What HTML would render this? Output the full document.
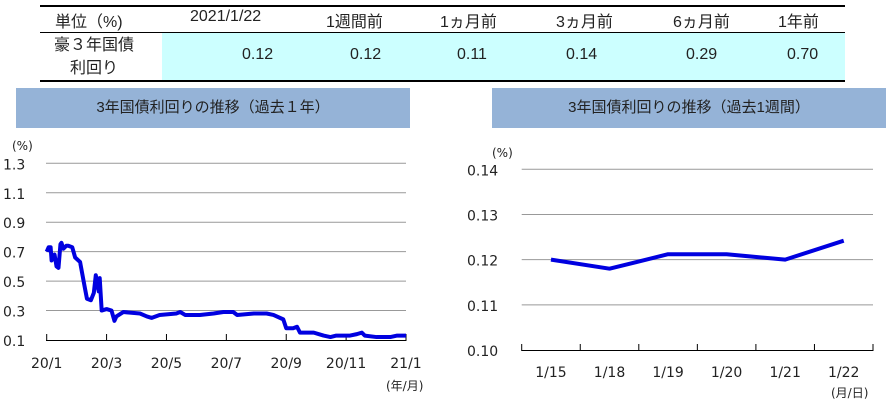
<!DOCTYPE html>
<html><head><meta charset="utf-8">
<style>
body{margin:0;width:888px;height:403px;background:#fff;font-family:"Liberation Sans","Noto Sans CJK JP",sans-serif;overflow:hidden;position:relative}
.t{position:absolute;font-size:16px;color:#222;white-space:nowrap}
svg text{font-family:"DejaVu Sans","Noto Sans CJK JP",sans-serif;fill:#222}
</style></head><body>
<div style="position:absolute;left:40px;top:5px;width:805px;height:76px">
 <div style="position:absolute;left:0;top:0;width:805px;height:2px;background:#000"></div>
 <div style="position:absolute;left:0;top:27px;width:805px;height:1px;background:#000"></div>
 <div style="position:absolute;left:0;top:75px;width:805px;height:2px;background:#000"></div>
 <div style="position:absolute;left:122px;top:28px;width:683px;height:47px;background:#ccffff"></div>
</div>
<div class="t" style="left:55px;top:8px">単位（%)</div>
<div class="t" style="left:190px;top:8px">2021/1/22</div>
<div class="t" style="left:326px;top:8px">1週間前</div>
<div class="t" style="left:440px;top:8px">1ヵ月前</div>
<div class="t" style="left:556px;top:8px">3ヵ月前</div>
<div class="t" style="left:673px;top:8px">6ヵ月前</div>
<div class="t" style="left:778px;top:8px">1年前</div>
<div class="t" style="left:54px;top:34px;text-align:center;line-height:23px">豪３年国債<br>利回り</div>
<div class="t" style="left:242px;top:46px">0.12</div>
<div class="t" style="left:350px;top:46px">0.12</div>
<div class="t" style="left:457px;top:46px">0.11</div>
<div class="t" style="left:566px;top:46px">0.14</div>
<div class="t" style="left:686px;top:46px">0.29</div>
<div class="t" style="left:787px;top:46px">0.70</div>
<div style="position:absolute;left:16px;top:88px;width:394px;height:40px;background:#95b3d7;font-size:15px;line-height:40px;text-align:center;color:#222">3年国債利回りの推移（過去１年）</div>
<div style="position:absolute;left:492px;top:88px;width:394px;height:40px;background:#95b3d7;font-size:15px;line-height:40px;text-align:center;color:#222">3年国債利回りの推移（過去1週間）</div>
<svg id="c" width="888" height="403" style="position:absolute;left:0;top:0"></svg>
<script>
const yearDays=[0,2,4,5,8,10,12,14,15,17,20,22,26,29,34,39,41,45,48,50,53,54,56,61,66,69,71,78,95,102,107,115,132,136,141,156,170,180,190,194,211,224,231,241,244,251,255,258,272,282,289,295,309,316,321,324,336,350,357,366];
const yearVals=[0.70,0.73,0.73,0.64,0.68,0.60,0.59,0.75,0.76,0.72,0.74,0.74,0.73,0.66,0.63,0.45,0.38,0.37,0.42,0.54,0.43,0.52,0.30,0.31,0.30,0.23,0.26,0.29,0.28,0.26,0.25,0.27,0.28,0.29,0.27,0.27,0.28,0.29,0.29,0.27,0.28,0.28,0.27,0.24,0.18,0.18,0.19,0.15,0.15,0.13,0.12,0.13,0.13,0.14,0.15,0.13,0.12,0.12,0.13,0.13];
const yearTicks=["0.1","0.3","0.5","0.7","0.9","1.1","1.3"];
const yearXLabels=["20/1","20/3","20/5","20/7","20/9","20/11","21/1"];
const weekCats=["1/15","1/18","1/19","1/20","1/21","1/22"];
const weekVals=[0.120,0.118,0.1212,0.1212,0.120,0.1242];
const weekTicks=["0.10","0.11","0.12","0.13","0.14"];
const S=document.getElementById('c');const NS='http://www.w3.org/2000/svg';
function mk(t,a,txt){const e=document.createElementNS(NS,t);for(const k in a)e.setAttribute(k,a[k]);if(txt!=null)e.textContent=txt;S.appendChild(e);return e;}
const lx=d=>46.7+d*(406-46.7)/366, ly=v=>340-(v-0.1)*(340-163.3)/1.2;
yearTicks.forEach((t,i)=>{const v=parseFloat(t),y=ly(v);
 if(i>0){const g=mk('line',{x1:46,x2:406,y1:y,y2:y,stroke:'#999','stroke-width':1});}
 const l=mk('text',{x:3,y:y+6,'font-size':14},t);});
const ax=mk('line',{x1:46,x2:406,y1:340.5,y2:340.5,stroke:'#000','stroke-width':1});
yearXLabels.forEach((t,i)=>{const x=46.7+i*(406-46.7)/6;
 const k=mk('line',{x1:x,x2:x,y1:334,y2:341,stroke:'#000'});
 const l=mk('text',{x:x,y:368,'font-size':14,'text-anchor':'middle'},t);});
const u1=mk('text',{x:12,y:150,'font-size':12},'(%)');
const u2=mk('text',{x:386,y:390,'font-size':12},'(年/月)');
const p1=mk('polyline',{points:yearDays.map((d,i)=>lx(d)+','+ly(yearVals[i])).join(' '),fill:'none',stroke:'#0000e0','stroke-width':4,'stroke-linejoin':'round'});

const rx0=521.7,rx1=873,bw=(rx1-rx0)/weekCats.length;
const ry=v=>350-(v-0.10)*(350-169.3)/0.04;
weekTicks.forEach((t,i)=>{const y=ry(parseFloat(t));
 if(i>0){const g=mk('line',{x1:rx0,x2:rx1,y1:y,y2:y,stroke:'#999','stroke-width':1});}
 const l=mk('text',{x:467,y:y+6,'font-size':14},t);});
const ax2=mk('line',{x1:rx0,x2:rx1,y1:350.5,y2:350.5,stroke:'#000'});
for(let i=0;i<=weekCats.length;i++){const x=rx0+i*bw;const k=mk('line',{x1:x,x2:x,y1:344,y2:351,stroke:'#000'});}
weekCats.forEach((t,i)=>{const l=mk('text',{x:rx0+(i+0.5)*bw,y:377,'font-size':14,'text-anchor':'middle'},t);});
const u3=mk('text',{x:492,y:157,'font-size':12},'(%)');
const u4=mk('text',{x:831,y:397,'font-size':12},'(月/日)');
const p2=mk('polyline',{points:weekVals.map((v,i)=>(rx0+(i+0.5)*bw)+','+ry(v)).join(' '),fill:'none',stroke:'#0000e0','stroke-width':4,'stroke-linejoin':'round'});

</script>
</body></html>
